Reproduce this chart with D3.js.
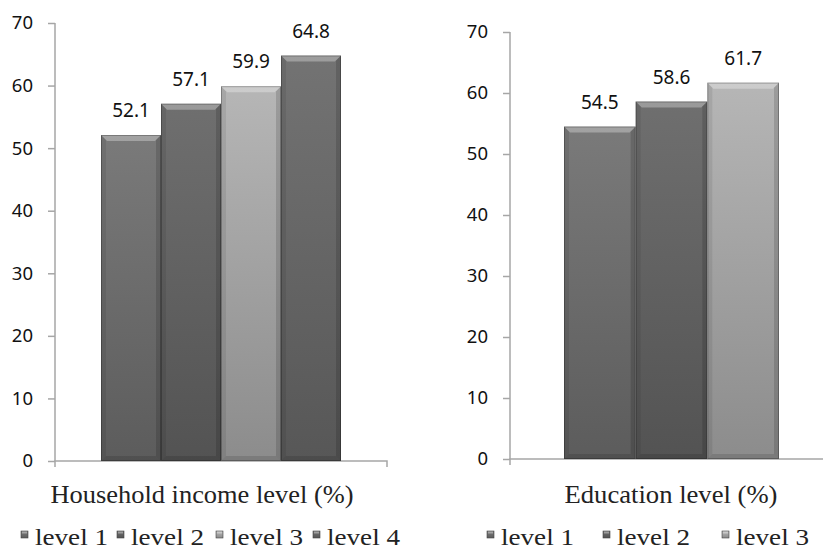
<!DOCTYPE html>
<html><head><meta charset="utf-8">
<script src="https://cdn.jsdelivr.net/npm/d3@7"></script>
<style>html,body{margin:0;padding:0;background:#fff;}svg{display:block;}</style>
</head><body>
<svg id="c" width="823" height="550"></svg>
<script>
const incomeCategories = ["level 1", "level 2", "level 3", "level 4"];
const incomeValues = [52.1, 57.1, 59.9, 64.8];
const educationCategories = ["level 1", "level 2", "level 3"];
const educationValues = [54.5, 58.6, 61.7];
const yTicks = [0, 10, 20, 30, 40, 50, 60, 70];
const incomeTitle = "Household income level (%)";
const educationTitle = "Education level (%)";
const levelColors = {"level 1": ["#7a7a7a", "#5c5c5c"], "level 2": ["#6f6f6f", "#535353"], "level 3": ["#b6b6b6", "#8c8c8c"], "level 4": ["#737373", "#575757"]};

const svg = d3.select("#c");
const defs = svg.append("defs");
Object.entries(levelColors).forEach(([k, c], i) => {
  const g = defs.append("linearGradient").attr("id", "g" + i).attr("x1", 0).attr("y1", 0).attr("x2", 0).attr("y2", 1);
  g.append("stop").attr("offset", "0%").attr("stop-color", c[0]);
  g.append("stop").attr("offset", "100%").attr("stop-color", c[1]);
});
const gradId = k => "url(#g" + Object.keys(levelColors).indexOf(k) + ")";
const serif = "'Liberation Serif', 'DejaVu Serif', serif";
const sans = "'Noto Sans', 'DejaVu Sans', sans-serif";

function panel(cfg) {
  const g = svg.append("g");
  const y = d3.scaleLinear().domain([0, 70]).range([cfg.y0, cfg.y1]);
  const x = d3.scaleBand().domain(cfg.cats).range(cfg.barRange).padding(0);
  const ya = d3.axisLeft(y).tickValues(yTicks).tickSize(7).tickPadding(15);
  const yg = g.append("g").attr("transform", `translate(${cfg.axX},0)`).call(ya);
  yg.select(".domain").attr("stroke", "#a6a6a6").attr("stroke-width", 1.5).attr("d", `M0,${cfg.y0}V${cfg.y1}`);
  yg.selectAll(".tick line").attr("stroke", "#a6a6a6").attr("stroke-width", 1.5);
  yg.selectAll(".tick text").attr("font-family", sans).attr("font-size", 18.5).attr("fill", "#111");
  g.append("path").attr("d", `M${cfg.axX},${cfg.y0 + 6}V${cfg.y0}H${cfg.axEnd}V${cfg.y0 + 6}`).attr("fill", "none").attr("stroke", "#a6a6a6").attr("stroke-width", 1.5);
  const bars = g.selectAll("g.bar").data(cfg.cats.map((c, i) => ({c, v: cfg.vals[i]}))).join("g").attr("class", "bar");
  bars.each(function(d) {
    const b = d3.select(this);
    const x0 = x(d.c), w = x.bandwidth(), yt = y(d.v), yb = y(0), h = yb - yt;
    b.append("rect").attr("x", x0).attr("y", yt).attr("width", w).attr("height", h).attr("fill", gradId(d.c));
    b.append("path").attr("d", `M${x0},${yt}H${x0 + w}L${x0 + w - 6},${yt + 6}H${x0 + 6}Z`).attr("fill", "#fff").attr("opacity", 0.3);
    b.append("path").attr("d", `M${x0},${yb}H${x0 + w}L${x0 + w - 5},${yb - 5}H${x0 + 5}Z`).attr("fill", "#000").attr("opacity", 0.12);
    b.append("path").attr("d", `M${x0},${yt}L${x0 + 5},${yt + 5}V${yb - 5}L${x0},${yb}Z`).attr("fill", "#000").attr("opacity", 0.08);
    b.append("path").attr("d", `M${x0 + w},${yt}L${x0 + w - 5},${yt + 5}V${yb - 5}L${x0 + w},${yb}Z`).attr("fill", "#000").attr("opacity", 0.14);
    b.append("rect").attr("x", x0 + 0.5).attr("y", yt + 0.5).attr("width", w - 1).attr("height", h - 1).attr("fill", "none").attr("stroke", "#000").attr("stroke-opacity", 0.25).attr("stroke-width", 1);
    b.append("text").attr("x", x0 + w / 2).attr("y", yt - 18).attr("text-anchor", "middle")
      .attr("font-family", sans).attr("font-size", 19).attr("fill", "#111").text(d.v.toFixed(1));
  });
  g.append("text").attr("x", cfg.titleX).attr("y", 503).attr("text-anchor", "middle")
    .attr("font-family", serif).attr("font-size", 25).attr("fill", "#222")
    .attr("textLength", cfg.titleLen).attr("lengthAdjust", "spacingAndGlyphs").text(cfg.title);
  cfg.cats.forEach((c, i) => {
    const lx = cfg.legX[i];
    g.append("rect").attr("x", lx).attr("y", 531).attr("width", 7).attr("height", 7).attr("fill", gradId(c)).attr("stroke", "#444").attr("stroke-width", 0.6);
    g.append("rect").attr("x", lx + 1).attr("y", 531.5).attr("width", 5).attr("height", 2).attr("fill", "#fff").attr("opacity", 0.35);
    g.append("text").attr("x", lx + 14).attr("y", 545).attr("font-family", serif)
      .attr("font-size", 23).attr("fill", "#222")
      .attr("textLength", 73).attr("lengthAdjust", "spacingAndGlyphs").text(c);
  });
}

panel({cats: incomeCategories, vals: incomeValues, y0: 461, y1: 23, axX: 55, axEnd: 387, barRange: [101, 341], title: incomeTitle, titleX: 202, titleLen: 303, legX: [21, 117, 216, 313]});
panel({cats: educationCategories, vals: educationValues, y0: 459, y1: 32, axX: 510, axEnd: 840, barRange: [564, 779], title: educationTitle, titleX: 671, titleLen: 213, legX: [487, 603, 722]});
</script>
</body></html>
